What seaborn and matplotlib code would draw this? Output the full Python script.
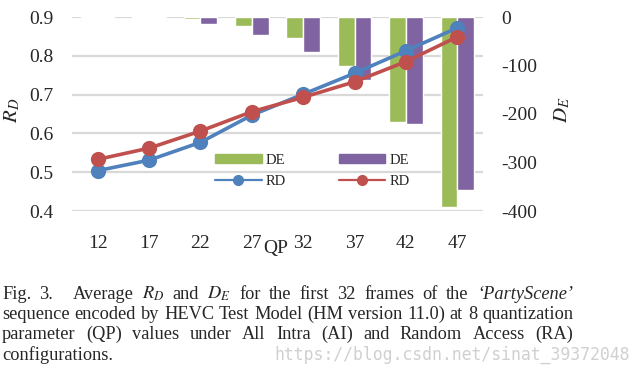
import matplotlib.pyplot as plt
import numpy as np
import pandas as pd
import seaborn as sns
from matplotlib.lines import Line2D
from matplotlib.patches import Patch
from matplotlib.ticker import FixedLocator

# values
qp = [12, 17, 22, 27, 32, 37, 42, 47]
rd_ai = [0.504, 0.531, 0.577, 0.647, 0.701, 0.755, 0.813, 0.872]
rd_ra = [0.533, 0.562, 0.606, 0.656, 0.693, 0.733, 0.785, 0.849]
de_ai = [-2, -2, -4, -19, -44, -100, -216, -391]
de_ra = [-2, -2, -15, -38, -73, -130, -220, -357]
rd_ticks = [0.4, 0.5, 0.6, 0.7, 0.8, 0.9]
de_ticks = [0, -100, -200, -300, -400]

caption = [
    ['Fig.', '3.', None, 'Average', '$R_D$', 'and', '$D_E$', 'for', 'the', 'first', '32',
     'frames', 'of', 'the', '‘PartyScene’'],
    'sequence encoded by HEVC Test Model (HM version 11.0) at 8 quantization'.split(),
    'parameter (QP) values under All Intra (AI) and Random Access (RA)'.split(),
]
last_line = 'configurations.'
watermark = 'https://blog.csdn.net/sinat_39372048'

green, purple = '#9BBB59', '#8064A2'
blue, red = '#4F81BD', '#C0504D'

sns.set_theme(style='white')
plt.rcParams['font.family'] = ['Liberation Serif', 'DejaVu Serif']
plt.rcParams['mathtext.fontset'] = 'stix'
plt.rcParams['axes.unicode_minus'] = False

de_df = pd.DataFrame({'QP': qp * 2, 'DE': de_ai + de_ra, 'cfg': ['AI'] * 8 + ['RA'] * 8})
rd_df = pd.DataFrame({'QP': qp * 2, 'RD': rd_ai + rd_ra, 'cfg': ['AI'] * 8 + ['RA'] * 8})

W, H = 642, 377
fig = plt.figure(figsize=(W / 100, H / 100), dpi=100)
ax = fig.add_axes([72 / W, 1 - 211 / H, 411 / W, 194 / H])
ax2 = ax.twinx()

# bars (D_E) on the bottom axes, scale on the right
sns.barplot(data=de_df, x='QP', y='DE', hue='cfg', palette=[green, purple], width=0.65,
            gap=0, saturation=1, ax=ax, legend=False)
ax.set_ylim(-400, 0)
ax.set_xlim(-0.5, 7.5)
ax.yaxis.tick_right()
ax.set_yticks(de_ticks)
ax.set_yticklabels([str(t) for t in de_ticks])
# gridlines follow the R_D ticks
ax.yaxis.set_minor_locator(FixedLocator([(t - 0.9) * 800 for t in rd_ticks]))
ax.yaxis.remove_overlapping_locs = False
ax.grid(False)
ax.grid(which='minor', axis='y', color='#D9D9D9', lw=1.6)
ax.set_axisbelow(True)
ax.set_xlabel('')
ax.set_ylabel('')
ax.tick_params(axis='x', length=0, labelsize=14, pad=17)
ax.tick_params(axis='y', which='both', length=0, labelsize=14, pad=13.5)

# lines (R_D) on the twin axes, scale on the left
sns.pointplot(data=rd_df, x='QP', y='RD', hue='cfg', palette=[blue, red], markers='o',
              markersize=9, linewidth=2.6, errorbar=None, ax=ax2, legend=False)
ax2.set_ylim(0.4, 0.9)
ax2.set_xlim(-0.5, 7.5)
ax2.yaxis.tick_left()
ax2.set_yticks(rd_ticks)
ax2.set_yticklabels([f'{t:.1f}' for t in rd_ticks])
ax2.grid(False)
ax2.set_ylabel('')
ax2.tick_params(axis='y', length=0, labelsize=14, pad=13.5)

for a in (ax, ax2):
    for s in a.spines.values():
        s.set_visible(False)

fig.text(276 / W, 1 - 248 / H, 'QP', ha='center', va='center', fontsize=14)
fig.text(12 / W, 1 - 110 / H, '$R_D$', ha='center', va='center', rotation=90, fontsize=15)
fig.text(562 / W, 1 - 110 / H, '$D_E$', ha='center', va='center', rotation=90, fontsize=15)

handles = [Patch(color=green), Line2D([], [], color=blue, lw=1.6, marker='o', ms=7),
           Patch(color=purple), Line2D([], [], color=red, lw=1.6, marker='o', ms=7)]
fig.legend(handles, ['DE', 'RD', 'DE', 'RD'], ncol=2, loc='upper left',
           bbox_to_anchor=(215 / W, 1 - 154 / H), frameon=False, fontsize=10.5,
           handlelength=3.2, handleheight=0.6, handletextpad=0.3, columnspacing=3.6,
           labelspacing=0.55, borderpad=0, borderaxespad=0)

# caption, justified between x0 and x1
cap_size = 13.2
x0, x1 = 2, 573
renderer = fig.canvas.get_renderer()
baselines = [299, 319, 339]
for words, yb in zip(caption, baselines):
    texts, gaps = [], []
    for w in words:
        if w is None:
            gaps[-1] = 2.3
            continue
        style = 'italic' if 'Party' in w else 'normal'
        t = fig.text(0, 1 - yb / H, w, fontsize=cap_size, style=style, va='baseline')
        texts.append(t)
        gaps.append(1.0)
    widths = [t.get_window_extent(renderer).width for t in texts]
    unit = (x1 - x0 - sum(widths)) / sum(gaps[:-1])
    x = x0
    for t, w, g in zip(texts, widths, gaps):
        t.set_x(x / W)
        x += w + g * unit
fig.text(x0 / W, 1 - 360 / H, last_line, fontsize=cap_size, va='baseline')
fig.text(274 / W, 1 - 360 / H, watermark, fontsize=11.9, family='DejaVu Sans Mono',
         color='#D0D0D0', va='baseline')

fig.savefig('out.png', dpi=100)
